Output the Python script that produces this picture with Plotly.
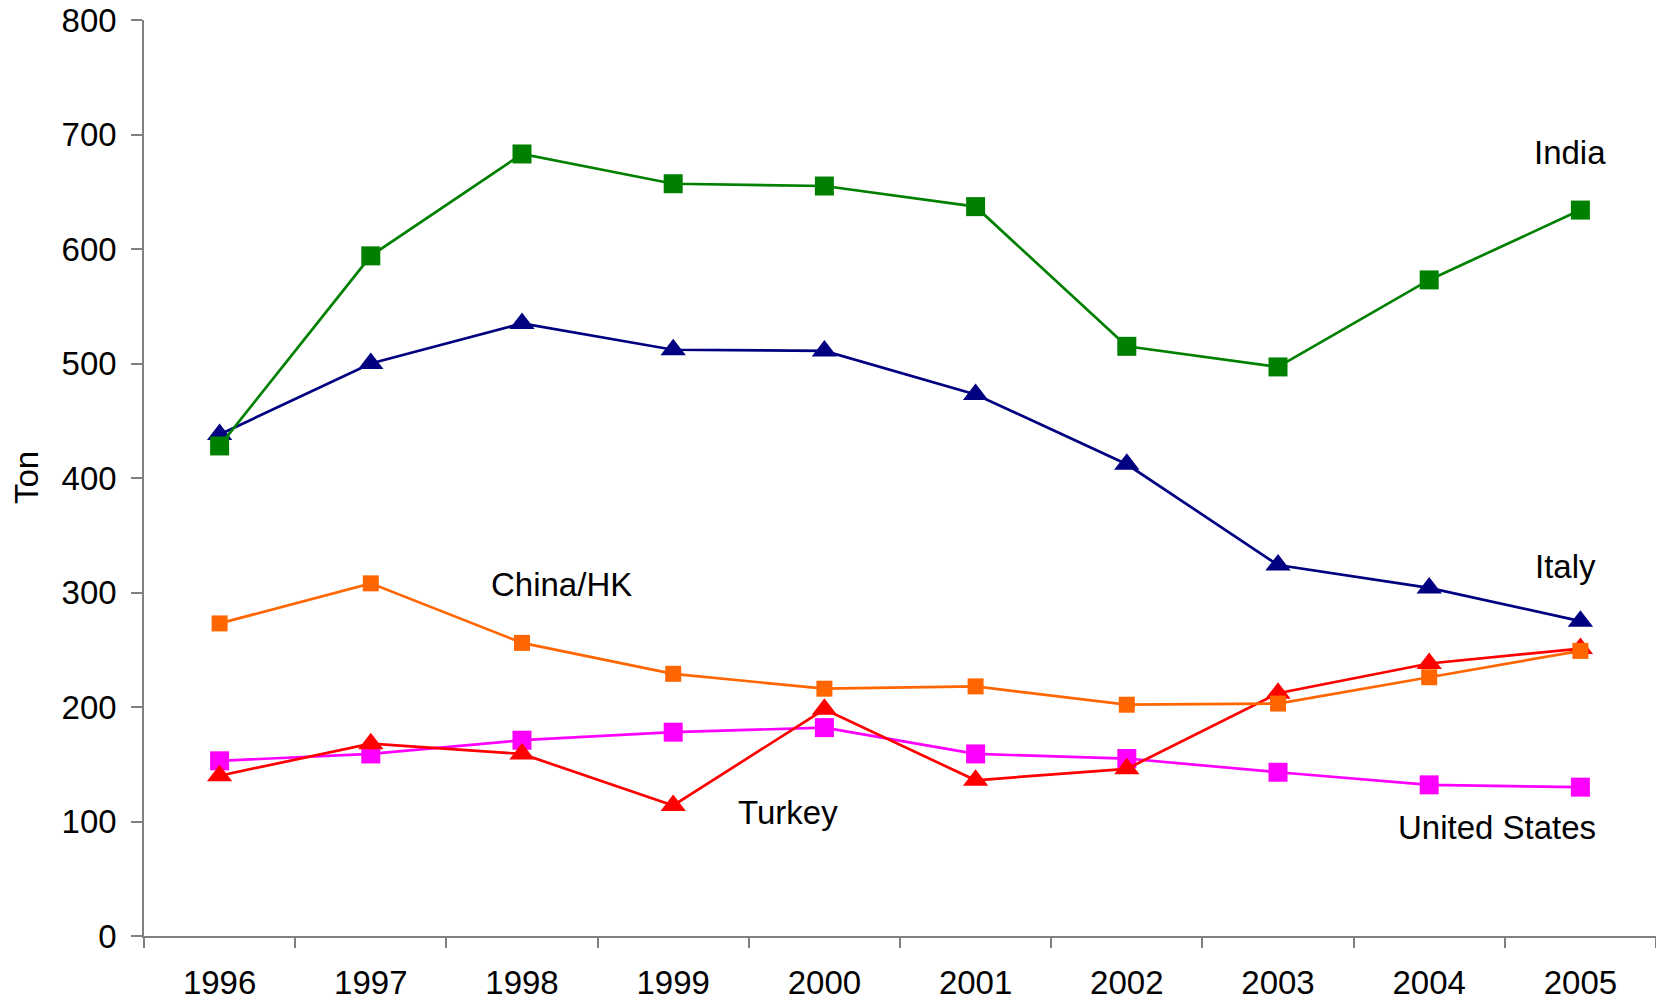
import plotly.graph_objects as go

years = ["1996", "1997", "1998", "1999", "2000", "2001", "2002", "2003", "2004", "2005"]
india = [428, 594, 683, 657, 655, 637, 515, 497, 573, 634]
italy = [438, 500, 535, 512, 511, 473, 412, 324, 304, 275]
china_hk = [273, 308, 256, 229, 216, 218, 202, 203, 226, 249]
united_states = [153, 159, 171, 178, 182, 159, 155, 143, 132, 130]
turkey = [140, 168, 159, 114, 198, 136, 146, 212, 238, 251]
y_ticks = [0, 100, 200, 300, 400, 500, 600, 700, 800]

FONT = "Liberation Sans, Arial, sans-serif"

fig = go.Figure()

def add(name, vals, color, symbol, size):
    fig.add_trace(go.Scatter(
        x=years, y=vals, name=name, mode="lines+markers",
        line=dict(color=color, width=2.7),
        marker=dict(symbol=symbol, size=size, color=color, line=dict(width=0)),
        showlegend=False,
    ))

add("Italy", italy, "#000080", "triangle-up", 22)
add("India", india, "#008000", "square", 19)
add("United States", united_states, "#FF00FF", "square", 19)
add("Turkey", turkey, "#FF0000", "triangle-up", 22)
add("China/HK", china_hk, "#FF6600", "square", 16)

labels = [
    ("India", 8.93, 684),
    ("Italy", 8.90, 323),
    ("China/HK", 2.26, 307),
    ("Turkey", 3.76, 108),
    ("United States", 8.45, 95),
]
for text, x, y in labels:
    fig.add_annotation(x=x, y=y, xref="x", yref="y", text=text, showarrow=False,
                       font=dict(family=FONT, size=33, color="black"),
                       xanchor="center", yanchor="middle")

fig.add_annotation(x=(26 - 144) / 1512, y=0.5, xref="paper", yref="paper", text="Ton",
                   textangle=-90, showarrow=False,
                   font=dict(family=FONT, size=33, color="black"),
                   xanchor="center", yanchor="middle")

fig.update_layout(
    width=1656, height=1004,
    margin=dict(l=144, r=0, t=20, b=68),
    paper_bgcolor="white", plot_bgcolor="white",
    font=dict(family=FONT, size=33, color="black"),
)
fig.update_xaxes(
    type="category", range=[-0.5, 9.5], tickson="boundaries",
    ticks="outside", ticklen=10, tickwidth=1.5, tickcolor="#808080",
    showline=True, linecolor="#808080", linewidth=1.5,
    showgrid=False, zeroline=False, ticklabelstandoff=17,
    tickfont=dict(family=FONT, size=33, color="black"),
)
fig.update_yaxes(
    range=[0, 800], tickvals=y_ticks, ticks="outside", ticklen=11, tickwidth=1.5,
    tickcolor="#808080", showline=True, linecolor="#808080", linewidth=1.5,
    showgrid=False, zeroline=False, ticklabelstandoff=8,
    tickfont=dict(family=FONT, size=33, color="black"),
)

fig.write_html("out.html")
